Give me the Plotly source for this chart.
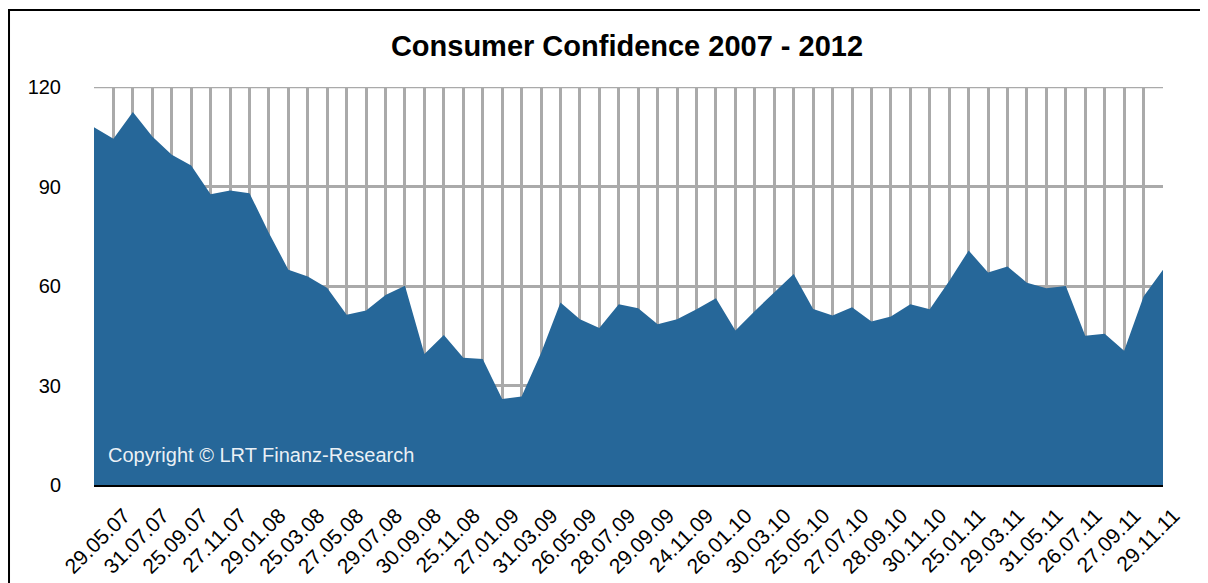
import plotly.graph_objects as go

dates = [
    "29.05.07", "26.06.07", "31.07.07", "28.08.07", "25.09.07", "30.10.07", "27.11.07", "27.12.07",
    "29.01.08", "26.02.08", "25.03.08", "29.04.08", "27.05.08", "24.06.08", "29.07.08", "26.08.08",
    "30.09.08", "28.10.08", "25.11.08", "30.12.08", "27.01.09", "24.02.09", "31.03.09", "28.04.09",
    "26.05.09", "30.06.09", "28.07.09", "25.08.09", "29.09.09", "27.10.09", "24.11.09", "29.12.09",
    "26.01.10", "23.02.10", "30.03.10", "27.04.10", "25.05.10", "29.06.10", "27.07.10", "31.08.10",
    "28.09.10", "26.10.10", "30.11.10", "28.12.10", "25.01.11", "22.02.11", "29.03.11", "26.04.11",
    "31.05.11", "28.06.11", "26.07.11", "30.08.11", "27.09.11", "25.10.11", "29.11.11", "27.12.11",
]

confidence = [
    107.9, 104.4, 112.5, 105.1, 99.6, 96.3, 87.7, 88.8,
    88.0, 76.0, 64.9, 62.9, 59.4, 51.3, 52.6, 57.3,
    60.1, 39.5, 45.2, 38.4, 38.0, 25.9, 26.7, 39.8,
    55.0, 50.0, 47.3, 54.5, 53.3, 48.5, 50.0, 53.0,
    56.3, 46.6, 52.5, 58.0, 63.6, 53.1, 51.1, 53.6,
    49.3, 50.8, 54.5, 53.0, 61.5, 70.7, 64.1, 65.9,
    61.0, 59.3, 60.0, 45.0, 45.6, 40.5, 56.8, 64.9,
]

y_ticks = [0, 30, 60, 90, 120]
label_step = 2
idx = list(range(len(dates)))
tick_text = [d if i % label_step == 0 else "" for i, d in enumerate(dates)]

fig = go.Figure()
fig.add_trace(go.Scatter(
    x=idx, y=confidence, mode="lines", fill="tozeroy",
    line=dict(width=0, color="#266799"), fillcolor="#266799",
    hoverinfo="skip", showlegend=False,
))

fig.add_annotation(
    xref="paper", yref="paper", x=0.011, y=0.075, xanchor="left", yanchor="middle",
    text="Copyright © LRT Finanz-Research", showarrow=False,
    font=dict(family="Liberation Sans, Arial", size=20, color="rgba(255,255,255,0.92)"),
)

# top grid line at the axis maximum
fig.add_shape(type="line", xref="paper", yref="y", x0=0, x1=1, y0=y_ticks[-1], y1=y_ticks[-1],
              line=dict(color="#aaaaaa", width=2.5), layer="below")

# outer frame
fig.add_shape(type="rect", xref="paper", yref="paper",
              x0=-0.0795, x1=1.0374, y0=-0.35, y1=1.1935,
              line=dict(color="#000000", width=2), layer="above")

fig.update_layout(
    width=1208, height=583,
    margin=dict(l=86, r=53, t=79, b=106),
    paper_bgcolor="white", plot_bgcolor="white",
    title=dict(text="<b>Consumer Confidence 2007 - 2012</b>", x=(627 - 8 - 86) / 1069,
               xanchor="center", xref="paper",
               y=1 - 38 / 583, yanchor="middle",
               font=dict(family="Liberation Sans, Arial", size=29, color="#000000")),
    font=dict(family="Liberation Sans, Arial", color="#000000"),
    xaxis=dict(
        range=[0, len(dates) - 1], tickmode="array", tickvals=idx, ticktext=tick_text,
        tickangle=-45, showgrid=True, gridcolor="#aaaaaa", gridwidth=2.5,
        showline=True, linecolor="#000000", linewidth=2, ticks="",
        tickfont=dict(size=21), ticklabelshift=30, ticklabelstandoff=8, zeroline=False,
    ),
    yaxis=dict(
        range=[0, 120], tickvals=y_ticks, showgrid=True,
        gridcolor="#aaaaaa", gridwidth=2.5, zeroline=False, showline=False,
        tickfont=dict(size=20), ticklabelstandoff=32,
    ),
)

fig.write_html("out.html")
